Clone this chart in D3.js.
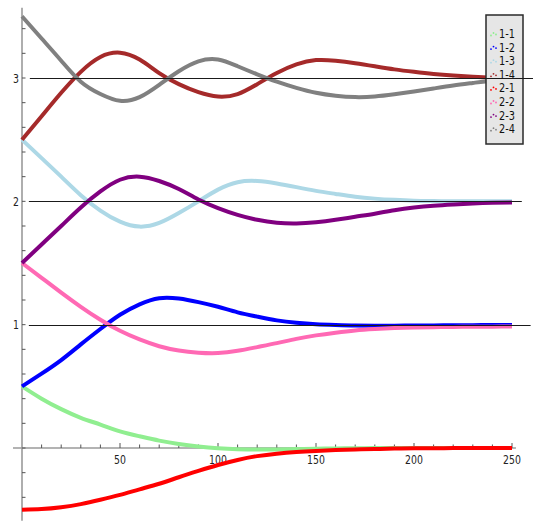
<!DOCTYPE html>
<style>
body { margin: 0; background: #fff; }
text { font-family: "DejaVu Sans", sans-serif; }
</style>
<svg width="533" height="527"></svg>
<script src="https://cdn.jsdelivr.net/npm/d3@7/dist/d3.min.js"></script>
<script>

// sample positions along x
var xs = [0, 10, 20, 30, 40, 50, 60, 70, 80, 90, 100, 110, 120, 130, 140, 150, 160, 170, 180, 190, 200, 210, 220, 230, 240, 250];

var names = ["1-1", "1-2", "1-3", "1-4", "2-1", "2-2", "2-3", "2-4"];
var colors = ["#90ee90", "#0000ff", "#add8e6", "#a52a2a", "#ff0000", "#ff69b4", "#800080", "#808080"];

var s11 = [0.5, 0.40, 0.315, 0.245, 0.19, 0.135, 0.095, 0.06, 0.032, 0.012, -0.002, -0.01, -0.013, -0.012, -0.009, -0.006, -0.004, -0.002, -0.001, 0, 0, 0, 0, 0, 0, 0];
var s12 = [0.5, 0.603, 0.713, 0.84, 0.965, 1.08, 1.165, 1.215, 1.212, 1.183, 1.145, 1.10, 1.065, 1.035, 1.015, 1.003, 0.997, 0.993, 0.992, 0.992, 0.993, 0.994, 0.995, 0.996, 0.997, 0.997];
var s13 = [2.5, 2.35, 2.2, 2.05, 1.925, 1.835, 1.795, 1.825, 1.905, 2.0, 2.095, 2.155, 2.165, 2.145, 2.115, 2.085, 2.06, 2.037, 2.022, 2.012, 2.005, 2.002, 2.0, 2.0, 2.0, 2.0];
var s14 = [2.5, 2.69, 2.88, 3.05, 3.17, 3.205, 3.15, 3.04, 2.95, 2.885, 2.85, 2.87, 2.95, 3.04, 3.11, 3.145, 3.14, 3.12, 3.095, 3.07, 3.05, 3.033, 3.02, 3.01, 3.003, 3.0];
var s21 = [-0.5, -0.495, -0.48, -0.455, -0.42, -0.38, -0.335, -0.29, -0.237, -0.186, -0.138, -0.097, -0.066, -0.046, -0.033, -0.024, -0.017, -0.012, -0.008, -0.005, -0.003, -0.002, -0.001, 0, 0, 0];
var s22 = [1.5, 1.38, 1.26, 1.145, 1.04, 0.95, 0.88, 0.825, 0.79, 0.773, 0.77, 0.788, 0.818, 0.85, 0.885, 0.913, 0.935, 0.953, 0.964, 0.972, 0.977, 0.98, 0.982, 0.983, 0.984, 0.985];
var s23 = [1.5, 1.65, 1.80, 1.95, 2.08, 2.175, 2.20, 2.165, 2.10, 2.015, 1.945, 1.89, 1.85, 1.826, 1.82, 1.83, 1.85, 1.875, 1.90, 1.928, 1.95, 1.965, 1.975, 1.983, 1.988, 1.99];
var s24 = [3.5, 3.32, 3.14, 2.97, 2.87, 2.815, 2.845, 2.945, 3.055, 3.135, 3.15, 3.095, 3.03, 2.97, 2.92, 2.88, 2.856, 2.845, 2.85, 2.868, 2.89, 2.915, 2.94, 2.96, 2.978, 2.99];

var series = [s11, s12, s13, s14, s21, s22, s23, s24];

// reference lines: level, start x, end x
var refLevels = [1, 2, 3];
var refStart = [3.5, 3.5, 4];
var refEnd = [259.5, 255, 261];

var xMinor = d3.range(10, 251, 10);
var xMajor = [50, 100, 150, 200, 250];
var yMinor = d3.range(-0.4, 3.41, 0.2);
var yMajor = [1, 2, 3];

var svg = d3.select("svg");

var x = d3.scaleLinear().domain([0, 250]).range([22, 512]);
var y = d3.scaleLinear().domain([0, 3]).range([448, 78]);

var axisColor = "#9a9a9a";

// axes lines
svg.append("line")
    .attr("x1", x(-4.6)).attr("x2", x(252))
    .attr("y1", y(0)).attr("y2", y(0))
    .attr("stroke", axisColor).attr("stroke-width", 1.6);

svg.append("line")
    .attr("x1", x(0)).attr("x2", x(0))
    .attr("y1", y(3.57)).attr("y2", y(-0.59))
    .attr("stroke", axisColor).attr("stroke-width", 1.6);

// x ticks (pointing up)
svg.append("g").selectAll("line")
    .data(xMinor)
  .enter().append("line")
    .attr("x1", function(d) { return x(d); })
    .attr("x2", function(d) { return x(d); })
    .attr("y1", y(0))
    .attr("y2", function(d) { return y(0) - (xMajor.indexOf(d) >= 0 ? 5 : 3.5); })
    .attr("stroke", "#555")
    .attr("stroke-width", 1);

svg.append("g").selectAll("g")
    .data(xMajor)
  .enter().append("g")
    .attr("transform", function(d) { return "translate(" + x(d) + "," + (y(0) + 16) + ")"; })
  .append("text")
    .attr("transform", "scale(0.72,1)")
    .attr("text-anchor", "middle")
    .attr("font-size", 13)
    .attr("fill", "#222")
    .text(function(d) { return d; });

// y ticks (pointing right)
svg.append("g").selectAll("line")
    .data(yMinor)
  .enter().append("line")
    .attr("x1", x(0))
    .attr("x2", x(0) + 3.5)
    .attr("y1", function(d) { return y(d); })
    .attr("y2", function(d) { return y(d); })
    .attr("stroke", "#555")
    .attr("stroke-width", 1);

svg.append("g").selectAll("g")
    .data(yMajor)
  .enter().append("g")
    .attr("transform", function(d) { return "translate(19," + (y(d) + 4.5) + ")"; })
  .append("text")
    .attr("transform", "scale(0.72,1)")
    .attr("text-anchor", "end")
    .attr("font-size", 13)
    .attr("fill", "#222")
    .text(function(d) { return d; });

// curves
var line = d3.line()
    .x(function(d) { return x(d[0]); })
    .y(function(d) { return y(d[1]); })
    .curve(d3.curveNatural);

series.forEach(function(vals, i) {
  svg.append("path")
      .datum(xs.map(function(v, j) { return [v, vals[j]]; }))
      .attr("fill", "none")
      .attr("stroke", colors[i])
      .attr("stroke-width", 4)
      .attr("stroke-linejoin", "round")
      .attr("d", line);
});

// legend
var legend = svg.append("g");

legend.append("rect")
    .attr("x", 486).attr("y", 15)
    .attr("width", 37).attr("height", 129)
    .attr("fill", "#e6e6e6")
    .attr("stroke", "#2a2a2a")
    .attr("stroke-width", 1.5);

var entry = legend.selectAll(".entry")
    .data(names)
  .enter().append("g")
    .attr("class", "entry")
    .attr("transform", function(d, i) { return "translate(490," + (33.5 + i * 13.6) + ")"; });

entry.each(function(d, i) {
  var g = d3.select(this);
  [[0, 2], [2.5, -0.5], [5, 1]].forEach(function(p) {
    g.append("circle")
        .attr("cx", p[0] + 1).attr("cy", p[1])
        .attr("r", 0.9)
        .attr("fill", colors[i]);
  });
  g.append("text")
      .attr("transform", "translate(9,4.5) scale(0.8,1)")
      .attr("font-size", 12.2)
      .attr("fill", "#111")
      .text(d);
});

// horizontal reference lines
svg.append("g").selectAll("line")
    .data(refLevels)
  .enter().append("line")
    .attr("x1", function(d, i) { return x(refStart[i]); })
    .attr("x2", function(d, i) { return x(refEnd[i]); })
    .attr("y1", function(d) { return Math.round(y(d)) + 0.5; })
    .attr("y2", function(d) { return Math.round(y(d)) + 0.5; })
    .attr("stroke", "#1a1a1a")
    .attr("stroke-width", 1.1);

</script>
